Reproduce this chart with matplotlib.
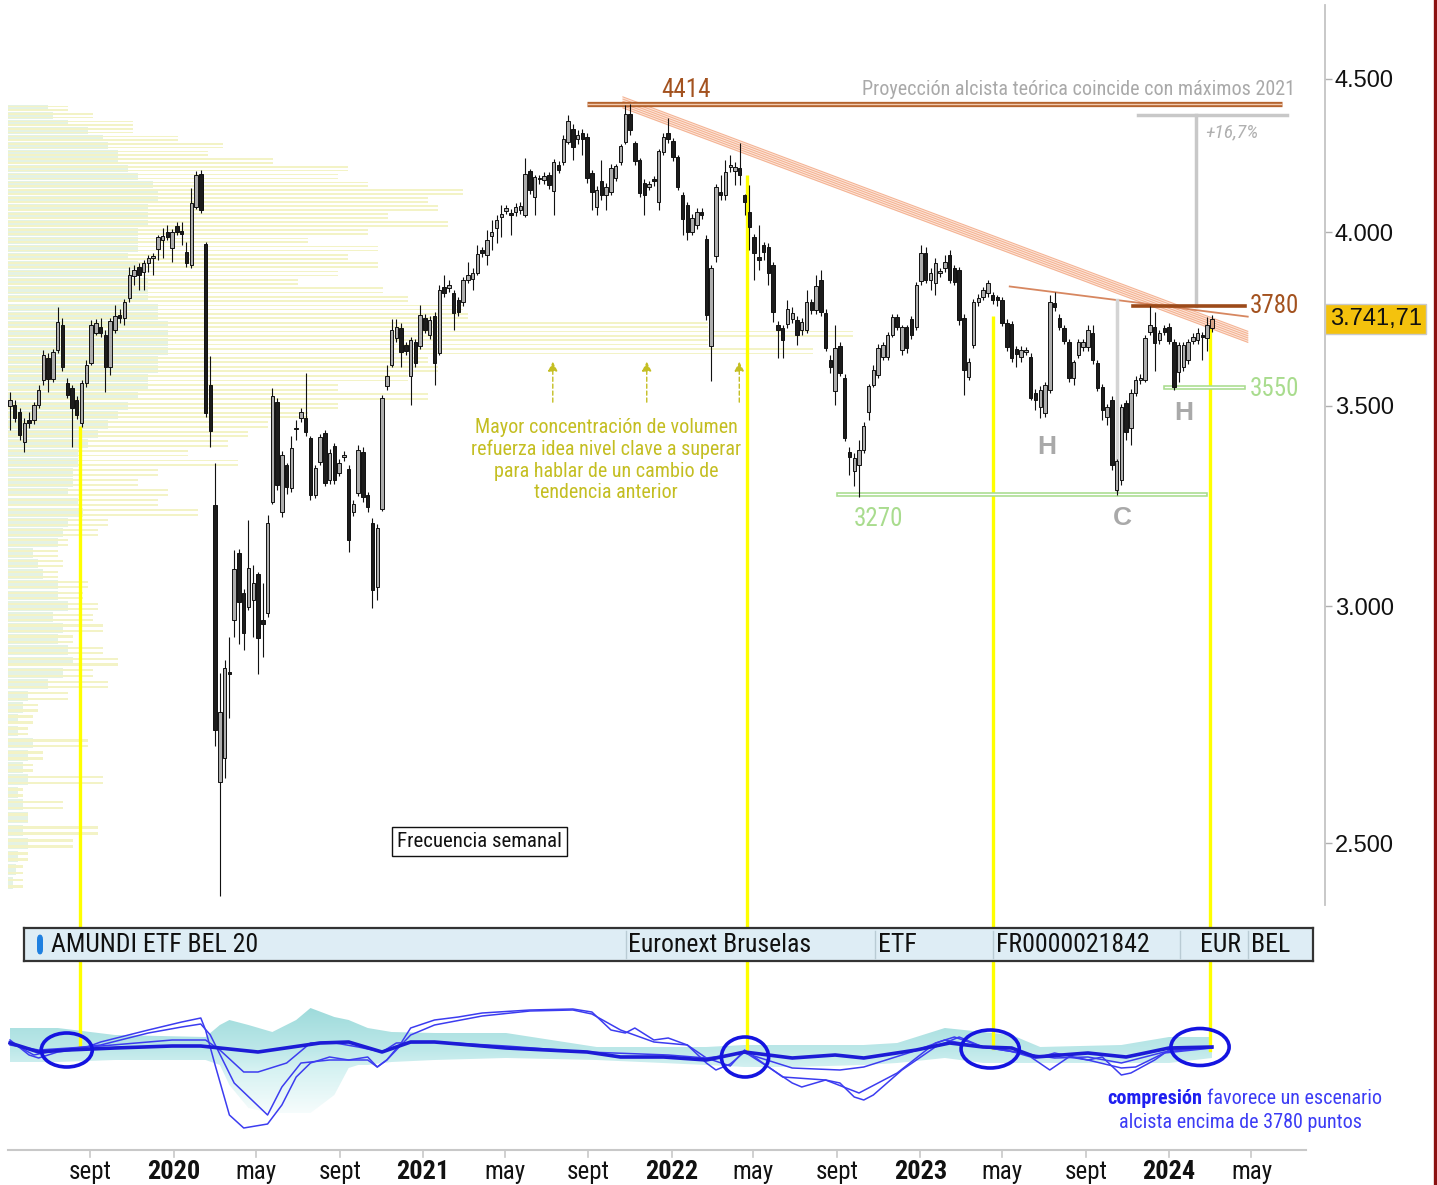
import datetime as dt
import numpy as np
import matplotlib
matplotlib.use("Agg")
import matplotlib.pyplot as plt
import matplotlib.transforms as mtransforms
from matplotlib import font_manager as fm
from matplotlib.patches import Ellipse, FancyBboxPatch
from matplotlib.lines import Line2D
from matplotlib.colors import LinearSegmentedColormap


def first_font(names):
    for name in names:
        try:
            fm.findfont(fm.FontProperties(family=name), fallback_to_default=False)
            return name
        except ValueError:
            continue
    return "DejaVu Sans"


NARROW = first_font(["Liberation Sans Narrow", "Roboto Condensed", "Liberation Sans"])
WIDE = first_font(["Liberation Sans", "DejaVu Sans"])
plt.rcParams["font.family"] = [NARROW, "DejaVu Sans"]

# ---------------- data: weekly candles, first week 2019-05-06 ----------------
start = dt.date(2019, 5, 6)

opens = [
    3500, 3502, 3483, 3403, 3461, 3461, 3502, 3570, 3630, 3572,
    3653, 3724, 3561, 3548, 3515, 3453, 3561, 3617, 3701, 3718,
    3695, 3605, 3710, 3753, 3744, 3802, 3867, 3894, 3879, 3906,
    3921, 3948, 3975, 4000, 3951, 4018, 4003, 3939, 3900, 4077,
    4182, 3963, 3556, 3242, 2620, 2670, 2850, 2968, 3125, 3030,
    2998, 3014, 3074, 2968, 2984, 3250, 3510, 3226, 3344, 3285,
    3440, 3467, 3467, 3414, 3267, 3352, 3427, 3305, 3392, 3323,
    3364, 3334, 3226, 3272, 3377, 3267, 3198, 3044, 3232, 3553,
    3611, 3687, 3715, 3667, 3580, 3676, 3664, 3744, 3695, 3750,
    3645, 3834, 3832, 3817, 3796, 3790, 3855, 3858, 3876, 3945,
    3930, 3988, 4012, 4046, 4065, 4058, 4062, 4068, 4053, 4192,
    4109, 4169, 4163, 4179, 4128, 4211, 4221, 4288, 4330, 4297,
    4316, 4303, 4185, 4077, 4160, 4115, 4124, 4170, 4221, 4288,
    4380, 4283, 4228, 4154, 4141, 4166, 4093, 4254, 4316, 4290,
    4237, 4115, 4084, 4000, 4022, 4062, 3978, 3664, 3927, 4124,
    4115, 4205, 4192, 4202, 4115, 4062, 3985, 3924, 3960, 3954,
    3900, 3724, 3715, 3727, 3741, 3738, 3710, 3710, 3790, 3767,
    3855, 3758, 3625, 3539, 3664, 3575, 3377, 3328, 3344, 3382,
    3484, 3556, 3583, 3633, 3633, 3695, 3747, 3653, 3718, 3741,
    3718, 3852, 3936, 3855, 3846, 3876, 3891, 3930, 3891, 3885,
    3744, 3577, 3667, 3790, 3805, 3816, 3811, 3805, 3796, 3729,
    3727, 3656, 3633, 3647, 3633, 3535, 3497, 3480, 3542, 3788,
    3744, 3715, 3675, 3575, 3639, 3661, 3661, 3701, 3616, 3550,
    3469, 3515, 3280, 3305, 3508, 3440, 3534, 3570, 3570, 3704,
    3718, 3681, 3715, 3718, 3675, 3591, 3605, 3625, 3678, 3681,
    3695, 3687, 3715,
]
highs = [
    3537, 3515, 3495, 3467, 3483, 3510, 3556, 3653, 3645, 3655,
    3775, 3744, 3575, 3556, 3525, 3570, 3625, 3738, 3740, 3745,
    3710, 3745, 3782, 3770, 3800, 3895, 3900, 3905, 3915, 3930,
    3935, 3992, 4012, 4022, 4010, 4030, 4030, 3970, 4137, 4192,
    4195, 3970, 3636, 3350, 2850, 2878, 2930, 3132, 3135, 3040,
    3205, 3096, 3080, 3053, 3218, 3547, 3520, 3380, 3350, 3418,
    3461, 3495, 3589, 3420, 3345, 3425, 3435, 3385, 3400, 3360,
    3380, 3345, 3255, 3395, 3390, 3275, 3210, 3195, 3529, 3611,
    3741, 3740, 3730, 3675, 3690, 3685, 3782, 3755, 3750, 3760,
    3840, 3870, 3855, 3825, 3805, 3865, 3909, 3890, 3960, 3955,
    4006, 4037, 4053, 4084, 4085, 4070, 4090, 4095, 4235, 4200,
    4180, 4180, 4190, 4190, 4230, 4225, 4310, 4377, 4345, 4325,
    4330, 4315, 4195, 4145, 4228, 4155, 4215, 4215, 4280, 4410,
    4414, 4290, 4235, 4165, 4160, 4175, 4265, 4315, 4367, 4300,
    4245, 4125, 4095, 4055, 4075, 4075, 3990, 3900, 4150, 4179,
    4228, 4244, 4220, 4283, 4120, 4147, 3995, 4022, 3970, 3965,
    3910, 3735, 3725, 3796, 3775, 3750, 3745, 3825, 3800, 3870,
    3885, 3770, 3640, 3724, 3675, 3585, 3390, 3375, 3409, 3455,
    3560, 3610, 3670, 3675, 3705, 3755, 3755, 3725, 3725, 3750,
    3850, 3960, 3954, 3890, 3920, 3890, 3930, 3945, 3900, 3895,
    3755, 3630, 3800, 3815, 3835, 3855, 3820, 3812, 3805, 3740,
    3735, 3665, 3665, 3662, 3645, 3545, 3552, 3565, 3811, 3820,
    3755, 3725, 3685, 3625, 3685, 3685, 3724, 3724, 3625, 3560,
    3505, 3525, 3360, 3505, 3515, 3545, 3580, 3585, 3695, 3780,
    3762, 3710, 3725, 3730, 3685, 3675, 3675, 3685, 3700, 3715,
    3705, 3747, 3753,
]
lows = [
    3435, 3456, 3409, 3377, 3440, 3450, 3495, 3556, 3537, 3565,
    3645, 3594, 3520, 3390, 3465, 3443, 3550, 3610, 3695, 3690,
    3537, 3583, 3700, 3730, 3724, 3790, 3840, 3825, 3825, 3880,
    3870, 3915, 3921, 3975, 3909, 3990, 3960, 3895, 3891, 4070,
    4058, 3470, 3390, 2695, 2401, 2628, 2752, 2930, 2915, 2900,
    2990, 2930, 2848, 2885, 2975, 3245, 3280, 3213, 3270, 3275,
    3409, 3455, 3420, 3255, 3260, 3345, 3290, 3295, 3295, 3315,
    3355, 3127, 3215, 3265, 3250, 3225, 2995, 3014, 3228, 3542,
    3605, 3675, 3606, 3640, 3502, 3605, 3655, 3700, 3685, 3556,
    3640, 3805, 3820, 3710, 3750, 3780, 3845, 3825, 3870, 3925,
    3900, 3945, 3966, 3985, 4055, 3991, 4050, 4055, 4045, 4120,
    4053, 4150, 4150, 4135, 4053, 4185, 4210, 4280, 4228, 4280,
    4245, 4155, 4068, 4053, 4100, 4068, 4115, 4160, 4210, 4280,
    4310, 4210, 4110, 4053, 4130, 4145, 4068, 4245, 4285, 4225,
    4130, 3991, 3975, 3990, 4010, 4040, 3738, 3567, 3909, 4100,
    4100, 4190, 4147, 4147, 4053, 3945, 3855, 3885, 3915, 3840,
    3732, 3631, 3631, 3715, 3730, 3667, 3695, 3700, 3755, 3755,
    3750, 3650, 3590, 3502, 3580, 3405, 3318, 3290, 3262, 3375,
    3461, 3550, 3575, 3625, 3625, 3690, 3710, 3640, 3645, 3685,
    3710, 3840, 3845, 3825, 3811, 3865, 3880, 3845, 3840, 3725,
    3530, 3570, 3660, 3780, 3795, 3805, 3785, 3780, 3720, 3650,
    3620, 3605, 3620, 3640, 3515, 3488, 3467, 3470, 3535, 3765,
    3710, 3670, 3565, 3556, 3630, 3650, 3650, 3615, 3540, 3461,
    3448, 3330, 3267, 3293, 3409, 3395, 3525, 3560, 3565, 3695,
    3595, 3670, 3695, 3670, 3542, 3564, 3595, 3615, 3670, 3670,
    3625, 3650, 3705,
]
closes = [
    3515, 3467, 3422, 3453, 3453, 3502, 3542, 3639, 3572, 3647,
    3732, 3605, 3529, 3494, 3475, 3561, 3611, 3724, 3729, 3701,
    3605, 3735, 3750, 3744, 3790, 3870, 3885, 3870, 3906, 3921,
    3927, 3985, 3988, 3985, 4000, 4000, 3994, 3906, 4089, 4179,
    4068, 3480, 3432, 2727, 2765, 2860, 2848, 3087, 3010, 2938,
    3089, 3055, 2927, 2960, 3198, 3526, 3292, 3369, 3287, 3387,
    3437, 3483, 3430, 3267, 3336, 3417, 3298, 3374, 3305, 3349,
    3369, 3156, 3245, 3382, 3262, 3238, 3037, 3186, 3520, 3580,
    3710, 3718, 3647, 3650, 3681, 3617, 3753, 3710, 3738, 3617,
    3825, 3817, 3840, 3758, 3762, 3855, 3870, 3876, 3933, 3936,
    3975, 4000, 4037, 4055, 4074, 4053, 4077, 4080, 4182, 4131,
    4172, 4166, 4176, 4147, 4221, 4195, 4297, 4357, 4270, 4310,
    4297, 4170, 4124, 4131, 4115, 4141, 4202, 4208, 4273, 4380,
    4326, 4224, 4121, 4115, 4150, 4160, 4257, 4303, 4297, 4237,
    4141, 4040, 4000, 4043, 4062, 4053, 3753, 3891, 4141, 4115,
    4189, 4212, 4205, 4179, 4093, 4016, 3936, 3915, 3939, 3876,
    3761, 3710, 3681, 3770, 3759, 3695, 3732, 3790, 3767, 3837,
    3761, 3659, 3605, 3659, 3589, 3414, 3364, 3362, 3382, 3445,
    3553, 3597, 3659, 3667, 3695, 3747, 3718, 3718, 3659, 3695,
    3840, 3936, 3855, 3876, 3906, 3879, 3909, 3855, 3849, 3738,
    3597, 3619, 3790, 3802, 3825, 3846, 3796, 3796, 3729, 3661,
    3630, 3642, 3653, 3653, 3522, 3515, 3542, 3556, 3790, 3776,
    3718, 3678, 3575, 3619, 3675, 3675, 3710, 3625, 3547, 3488,
    3497, 3344, 3353, 3497, 3430, 3534, 3570, 3575, 3687, 3724,
    3673, 3701, 3704, 3678, 3550, 3667, 3667, 3675, 3690, 3701,
    3690, 3724, 3741.71,
]
last_price = 3741.71

# volume profile (price level, volume in arbitrary units)
vp_levels = [
    4400, 4375, 4350, 4325, 4300, 4275, 4250, 4225, 4200, 4175,
    4150, 4125, 4100, 4075, 4050, 4025, 4000, 3975, 3950, 3925,
    3900, 3875, 3850, 3825, 3800, 3775, 3750, 3725, 3700, 3675,
    3650, 3625, 3600, 3575, 3550, 3525, 3500, 3475, 3450, 3425,
    3400, 3375, 3350, 3325, 3300, 3275, 3250, 3225, 3200, 3175,
    3150, 3125, 3100, 3075, 3050, 3025, 3000, 2975, 2950, 2925,
    2900, 2875, 2850, 2825, 2800, 2775, 2750, 2725, 2700, 2675,
    2650, 2625, 2600, 2575, 2550, 2525, 2500, 2475, 2450, 2425,
]
vp_green = [
    40, 45, 60, 80, 95, 100, 110, 110, 120, 130,
    145, 150, 150, 140, 140, 140, 130, 130, 130, 120,
    130, 130, 140, 140, 140, 150, 150, 160, 160, 160,
    160, 150, 150, 140, 140, 130, 120, 110, 100, 90,
    80, 70, 70, 65, 65, 60, 70, 75, 60, 55,
    50, 25, 30, 35, 50, 50, 60, 45, 55, 50,
    60, 65, 55, 40, 20, 15, 10, 10, 25, 20,
    15, 20, 10, 15, 20, 15, 20, 10, 8, 5,
]
vp_yellow = [
    60, 85, 125, 125, 170, 215, 200, 265, 340, 330,
    360, 455, 420, 430, 380, 440, 360, 300, 370, 340,
    370, 330, 290, 375, 400, 455, 460, 700, 845, 700,
    805, 420, 430, 400, 330, 420, 330, 300, 260, 240,
    220, 180, 230, 150, 130, 160, 150, 190, 100, 90,
    60, 50, 55, 50, 80, 75, 90, 85, 95, 65,
    95, 110, 85, 100, 60, 30, 25, 20, 80, 35,
    25, 95, 15, 55, 20, 90, 65, 20, 15, 15,
]

# lower oscillator panel (week index, value)
slow_w = [0, 6, 12, 22, 34, 40, 52, 65, 71, 78, 84, 89, 104, 121, 128, 137, 146, 154,
          164, 173, 179, 190, 197, 204, 210, 215, 226, 234, 243, 252]
slow_v = [0.7, -0.2, 0.0, 0.2, 0.4, 0.4, -0.2, 0.7, 0.8, -0.2, 0.8, 0.8, 0.2, -0.2, -0.7,
          -0.7, -1.0, -0.2, -0.8, -0.5, -0.8, 0.0, 0.7, 0.3, 0.2, -0.7, -0.3, -0.7, 0.2, 0.3]
fast_w = [0, 4, 6, 10, 15, 19, 29, 36, 40, 41, 43, 46, 49, 54, 57, 60, 63, 67, 71, 75,
          77, 79, 82, 84, 89, 94, 99, 109, 118, 122, 126, 129, 131, 135, 138, 142, 146, 148,
          151, 154, 159, 164, 166, 171, 174, 177, 179, 181, 187, 194, 199, 204, 209, 214,
          218, 222, 226, 229, 233, 235, 240, 243, 252]
fast_v = [1.0, -0.5, -0.8, -0.2, 0.1, 0.8, 2.0, 2.8, 3.2, 2.0, -1.5, -6.5, -7.8, -7.4, -5.5,
          -2.7, -1.3, -0.7, -1.0, -0.7, -1.7, -1.0, 0.7, 2.2, 3.0, 3.3, 3.7, 4.0, 4.1, 3.8,
          2.0, 1.7, 2.2, 1.0, 1.2, 0.5, -1.3, -2.0, -1.4, -0.2, -1.7, -3.3, -3.7, -3.0, -3.3,
          -4.7, -5.0, -4.5, -2.0, 0.3, 1.3, 0.3, 0.0, -0.7, -2.0, -0.7, -1.0, -0.7, -2.5,
          -2.3, -1.0, 0.0, 0.2]
mid_w = [0, 5, 10, 19, 29, 36, 40, 42, 47, 54, 57, 61, 67, 71, 75, 77, 79, 82, 84, 89,
         99, 109, 118, 122, 128, 135, 142, 146, 151, 154, 162, 171, 178, 186, 194, 198,
         204, 212, 216, 219, 226, 233, 236, 242, 252]
mid_v = [0.8, -0.5, 0.0, 0.5, 1.7, 2.3, 2.6, 1.5, -3.3, -6.5, -3.7, -1.3, -1.0, -1.0, -1.0,
         -1.7, -1.0, 0.5, 1.5, 2.5, 3.4, 3.9, 4.0, 3.6, 2.0, 0.8, 0.5, -0.8, -1.6, 0.0,
         -2.7, -3.0, -4.3, -2.3, 0.7, 1.3, 0.3, -0.3, -0.7, -0.3, -1.0, -1.8, -1.7, -0.3, 0.2]
med_w = [0, 6, 19, 34, 41, 44, 49, 52, 58, 63, 67, 73, 78, 81, 89, 104, 121, 138, 146, 154,
         164, 174, 179, 189, 196, 204, 212, 219, 226, 233, 242, 252]
med_v = [0.5, 0.0, 0.4, 1.0, 1.0, 0.0, -2.2, -2.2, -1.3, 0.7, 0.8, 0.3, -0.2, 0.7, 0.8, 0.4,
         -0.2, -0.5, -0.8, -0.3, -1.8, -2.0, -1.7, -0.2, 1.0, 0.3, -0.3, -0.8, -0.7, -1.3,
         -0.2, 0.3]
band_w = [0, 10, 22, 41, 44, 46, 50, 55, 60, 63, 68, 71, 73, 75, 80, 89, 104, 123, 146, 154,
          164, 179, 186, 196, 204, 210, 216, 233, 243, 252]
band_up = [2.2, 2.2, 1.5, 1.3, 2.5, 3.0, 2.5, 1.8, 3.0, 4.2, 3.3, 3.0, 2.6, 2.2, 1.8, 1.7,
           1.7, 0.3, 0.3, 0.5, 0.5, 0.5, 0.7, 2.2, 1.8, 1.5, 0.3, 0.5, 1.3, 1.3]
band_lo = [-1.2, -1.2, -1.0, -1.0, -1.5, -3.5, -5.8, -6.3, -6.3, -6.3, -4.5, -1.8, -1.5,
           -1.5, -1.2, -1.0, -0.8, -1.0, -1.5, -1.7, -1.7, -1.5, -1.3, -0.8, -1.3, -1.3,
           -1.3, -1.3, -1.3, -0.8]

tick_dates = [dt.date(2019, 9, 1), dt.date(2020, 1, 1), dt.date(2020, 5, 1), dt.date(2020, 9, 1),
              dt.date(2021, 1, 1), dt.date(2021, 5, 1), dt.date(2021, 9, 1), dt.date(2022, 1, 1),
              dt.date(2022, 5, 1), dt.date(2022, 9, 1), dt.date(2023, 1, 1), dt.date(2023, 5, 1),
              dt.date(2023, 9, 1), dt.date(2024, 1, 1), dt.date(2024, 5, 1)]
tick_labels = ["sept", "2020", "may", "sept", "2021", "may", "sept", "2022", "may", "sept",
               "2023", "may", "sept", "2024", "may"]

# ---------------- layout ----------------
W, H = 1437, 1185
PX_WEEK = 4.77
XL = (-0.42, 275.7)
fig = plt.figure(figsize=(W / 100, H / 100), dpi=100)
fig.patch.set_facecolor("white")


def box(x0, y0, x1, y1):
    return [x0 / W, 1 - y1 / H, (x1 - x0) / W, (y1 - y0) / H]


ax = fig.add_axes(box(8, 5, 1325, 905))
ax.set_facecolor("none")
ax.set_yscale("log")

BROWN = "#a3521f"
GREEN = "#a9dc8e"
OLIVE = "#c4be22"
GREY_T = "#a9a9a9"
YELLOW = "#ffff00"

# volume profile: pale green field, thin yellow stripes on top
lv = np.array(vp_levels, dtype=float)
ax.barh(lv, np.array(vp_green) / PX_WEEK, left=XL[0], height=22,
        color="#e4f2e4", linewidth=0, zorder=0.5)
for off in (-6.5, 5.5):
    ax.barh(lv + off, np.array(vp_yellow) / PX_WEEK, left=XL[0], height=5.0,
            color="#f3f3c6", linewidth=0, zorder=0.6)

# candles
o = np.array(opens, dtype=float)
hi = np.array(highs, dtype=float)
lo = np.array(lows, dtype=float)
c = np.array(closes, dtype=float)
idx = np.arange(len(c))
ax.vlines(idx, lo, hi, color="#111111", lw=0.8, zorder=3)
body_lo = np.minimum(o, c)
body_h = np.maximum(np.abs(c - o), body_lo * 0.0012)
cols = np.where(c >= o, "#adadad", "#1c1c1c").astype(object)
cols[-1] = "#d6a486"
ax.bar(idx, body_h, bottom=body_lo, width=0.72, color=list(cols),
       edgecolor="#111111", linewidth=0.7, zorder=4)

# yellow guide lines (main part)
guides = [(14.7, 3445, 0.3), (154.5, 4180, -0.2), (206.1, 3750, 0.2), (251.6, 3745, 0.0)]
for gx, gp, _ in guides:
    ax.plot([gx, gx], [gp, 2329], color=YELLOW, lw=2.4, zorder=1.5, clip_on=False,
            solid_capstyle="butt")

# descending resistance band
tx = np.array([128.5, 259.5])
tp = np.array([4438, 3706])
ax.fill_between(tx, tp, tp * np.exp(-11 / 1300), color="#fde8dc", lw=0, zorder=2)
for k in range(6):
    ax.plot(tx, tp * np.exp(-k * 2.2 / 1300), color="#f4b394", lw=0.8, zorder=2.1)

# neckline
ax.plot([209.6, 259.5], [3836, 3748], color="#d78760", lw=1.3, zorder=2.2)

# 4414 projection level
ax.plot([121.0, 266.7], [4414, 4414], color="#b4632e", lw=3.8, zorder=2.3,
        solid_capstyle="butt")
ax.plot([121.0, 266.7], [4414, 4414], color="#f2cbb0", lw=1.0, zorder=2.4,
        solid_capstyle="butt")
ax.text(141.7, 4462, "4414", color=BROWN, fontsize=18, ha="center", va="center")
ax.text(269.4, 4465, "Proyección alcista teórica coincide con máximos 2021",
        color=GREY_T, fontsize=14.5, ha="right", va="center")

# +16,7% measure
ax.plot([236.5, 267.7], [4377, 4377], color="#c8c8c8", lw=2.5, zorder=2.2)
ax.plot([248.6, 248.6], [4377, 3780], color="#c8c8c8", lw=2.5, zorder=2.2)
ax.text(250.6, 4318, "+16,7%", color="#b0b0b0", fontsize=14, style="italic",
        ha="left", va="center")

# 3780 resistance
ax.plot([235.4, 258.9], [3780, 3780], color="#9c4a1a", lw=2.6, zorder=2.5)
ax.text(260.0, 3780, "3780", color=BROWN, fontsize=18, ha="left", va="center")

# supports
for x0, x1, lvl in [(242.1, 258.5, 3550), (173.6, 250.5, 3270)]:
    ax.plot([x0, x1], [lvl, lvl], color=GREEN, lw=3.3, zorder=2.5)
    ax.plot([x0, x1], [lvl, lvl], color="white", lw=1.0, zorder=2.6)
ax.text(260.0, 3545, "3550", color=GREEN, fontsize=18, ha="left", va="center")
ax.text(182.0, 3208, "3270", color=GREEN, fontsize=18, ha="center", va="center")

# C vertical
ax.plot([232.1, 232.1], [3796, 3270], color="#d4d4d4", lw=2.5, zorder=2.2)

# H C H labels
for lx, lp, lt in [(217.4, 3391, "H"), (233.3, 3210, "C"), (246.1, 3481, "H")]:
    ax.text(lx, lp, lt, color="#a9a9a9", fontsize=19, fontweight="bold",
            ha="center", va="center", family=WIDE)

# volume note
ax.text(125.0, 3357,
        "Mayor concentración de volumen\nrefuerza idea nivel clave a superar\n"
        "para hablar de un cambio de\ntendencia anterior",
        color=OLIVE, fontsize=14.5, ha="center", va="center", linespacing=1.18)
for aw in [113.8, 133.5, 152.9]:
    ax.annotate("", xy=(aw, 3628), xytext=(aw, 3502),
                arrowprops=dict(arrowstyle="-|>,head_length=0.55,head_width=0.28",
                                color=OLIVE, lw=1.0, linestyle=(0, (3, 2))),
                zorder=5)

ax.text(98.5, 2503, "Frecuencia semanal", fontsize=15, ha="center", va="center",
        color="#111111",
        bbox=dict(boxstyle="square,pad=0.25", fc="white", ec="#111111", lw=1.0))

# axes styling
ax.set_xlim(*XL)
ax.set_ylim(2384, 4763)
for s in ["left", "top", "bottom"]:
    ax.spines[s].set_visible(False)
ax.spines["right"].set_color("#c4c4c4")
ax.spines["right"].set_linewidth(1.3)
ax.set_xticks([])
ax.yaxis.tick_right()
ax.minorticks_off()
ax.set_yticks([2500, 3000, 3500, 4000, 4500])
ax.set_yticklabels(["2.500", "3.000", "3.500", "4.000", "4.500"], family=WIDE)
ax.tick_params(axis="y", which="both", length=5, width=1, color="#b0b0b0",
               labelsize=17, pad=2, labelcolor="#111111")
ax.yaxis.set_minor_locator(matplotlib.ticker.NullLocator())
trans = mtransforms.blended_transform_factory(ax.transAxes, ax.transData)
ax.text(1.0035, last_price, "3.741,71", transform=trans, fontsize=17, family=WIDE,
        ha="left", va="center", color="#111111", zorder=6,
        bbox=dict(boxstyle="square,pad=0.18", fc="#f4c20d", ec="#c9c9c9", lw=1.0))

# ---------------- lower panel ----------------
ax2 = fig.add_axes(box(8, 955, 1325, 1152))
ax2.set_facecolor("none")
ax2.axis("off")
poly = ax2.fill_between(band_w, band_lo, band_up, facecolor="none", edgecolor="none")
cmap = LinearSegmentedColormap.from_list(
    "band", [(0.0, "#ffffff"), (0.46, "#d6f2f2"), (0.625, "#bde8e9"), (1.0, "#9cdada")])
grad = np.linspace(1, 0, 256).reshape(-1, 1)
img = ax2.imshow(grad, extent=[XL[0], XL[1], -7.5, 4.5], aspect="auto", cmap=cmap,
                 origin="upper", zorder=1)
img.set_clip_path(poly.get_paths()[0], transform=ax2.transData)

for gx, _, gv in guides:
    ax2.plot([gx, gx], [9.5, gv], color=YELLOW, lw=2.4, zorder=2.5)

ax2.plot(fast_w, fast_v, color="#3c3cf0", lw=1.1, zorder=3)
ax2.plot(mid_w, mid_v, color="#3c3cf0", lw=1.1, zorder=3)
ax2.plot(med_w, med_v, color="#3c3cf0", lw=1.1, zorder=3)
ax2.plot(slow_w, slow_v, color="#1c1cd6", lw=2.6, zorder=3.2)

for (ex, ev, ew, eh) in [(11.9, 0.0, 10.7, 3.4), (154.1, -0.7, 9.9, 4.0),
                         (205.5, 0.1, 12.2, 3.8), (249.5, 0.3, 12.2, 3.7)]:
    ax2.add_patch(Ellipse((ex, ev), ew, eh, fill=False, ec="#1414e0", lw=2.6, zorder=5))

ax2.text(249.9, -4.8, "compresión", color="#1e1ef0", fontsize=14.5, fontweight="bold",
         ha="right", va="center")
ax2.text(250.9, -4.8, "favorece un escenario", color="#3c3cf5", fontsize=14.5,
         ha="left", va="center")
ax2.text(257.9, -7.3, "alcista encima de 3780 puntos", color="#3c3cf5", fontsize=14.5,
         ha="center", va="center")

# time axis
ax2.plot([XL[0], 271.7], [-10, -10], color="#c8c8c8", lw=1.5, clip_on=False)
for d, lab in zip(tick_dates, tick_labels):
    wk = (d - start).days / 7
    ax2.plot([wk, wk], [-10, -10.7], color="#c8c8c8", lw=1.2, clip_on=False)
    year = lab.isdigit()
    ax2.text(wk, -12.2, lab, ha="center", va="center", clip_on=False,
             fontsize=19 if year else 18, fontweight="bold" if year else "normal",
             color="#111111")
ax2.set_xlim(*XL)
ax2.set_ylim(-10.2, 9.5)

# ---------------- instrument bar ----------------
axb = fig.add_axes(box(24, 928, 1313, 961), zorder=10)
axb.set_xlim(24, 1313)
axb.set_ylim(0, 1)
axb.set_facecolor("#deedf5")
axb.set_xticks([])
axb.set_yticks([])
for s in axb.spines.values():
    s.set_color("#333333")
    s.set_linewidth(1.6)
axb.add_patch(FancyBboxPatch((37, 0.2), 6, 0.6, boxstyle="round,pad=0,rounding_size=3",
                             fc="#1f80e0", ec="none", mutation_aspect=0.05))
for sx in [626, 875, 993, 1180, 1248]:
    axb.plot([sx, sx], [0.08, 0.92], color="#b9cbd4", lw=1.0)
for tx_, tt in [(51, "AMUNDI ETF BEL 20"), (628, "Euronext Bruselas"), (878, "ETF"),
                (996, "FR0000021842"), (1200, "EUR"), (1251, "BEL")]:
    axb.text(tx_, 0.47, tt, fontsize=18.5, ha="left", va="center", color="#111111")

# right border
fig.add_artist(Line2D([1435 / W, 1435 / W], [0, 1], color="#8b1111", lw=2.4,
                      transform=fig.transFigure))

fig.savefig("out.png", dpi=100, facecolor="white")
